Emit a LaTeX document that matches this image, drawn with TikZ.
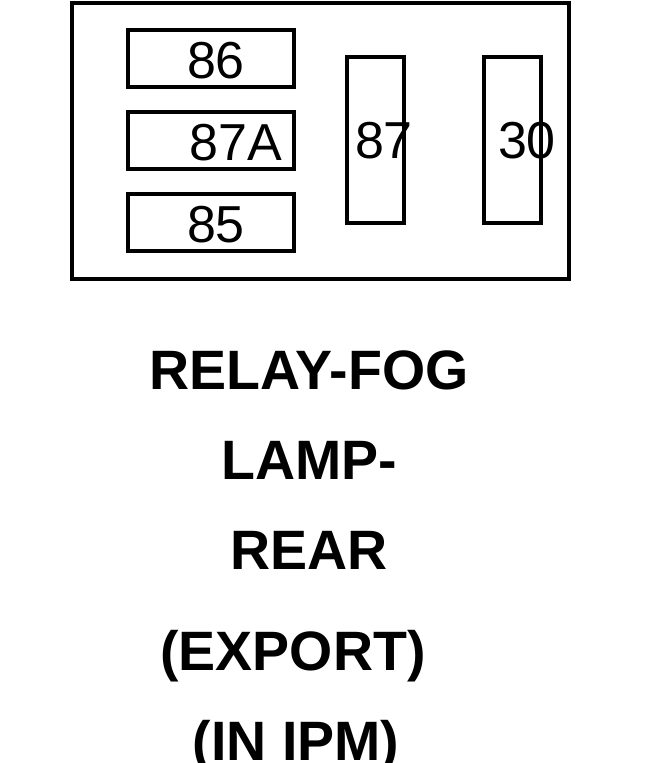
\documentclass[tikz,border=0pt]{standalone}
\usepackage{fontspec}
\setmainfont{Liberation Sans}
\begin{document}
\begin{tikzpicture}[x=1pt,y=-1pt,
  pin/.style={draw, line width=4pt, inner sep=0pt},
  pinlabel/.style={font=\fontsize{52}{52}\selectfont},
  title/.style={font=\fontsize{55.5}{55.5}\selectfont\bfseries}]
  \useasboundingbox (0,0) rectangle (648,763);
  \node[pin, minimum width=497pt, minimum height=276pt] (relay) at (320.5,141) {};
  % pins
  \node[pin, minimum width=166pt, minimum height=57pt] (p86) at (211,58.5) {};
  \node[pin, minimum width=166pt, minimum height=57pt] (p87A) at (211,140.5) {};
  \node[pin, minimum width=166pt, minimum height=57pt] (p85) at (211,222.5) {};
  \node[pin, minimum width=57pt, minimum height=166pt] (p87) at (375.5,140) {};
  \node[pin, minimum width=57pt, minimum height=166pt] (p30) at (512.5,140) {};
  \node[pinlabel] (t86) at (216,61) {86};
  \node[pinlabel] (t87A) at (236,143) {87A};
  \node[pinlabel] (t85) at (216,225) {85};
  \node[pinlabel] (t87) at (384,141) {87};
  \node[pinlabel] (t30) at (527,141) {30};
  % caption
  \node[title] (l1) at (309,370) {RELAY-FOG};
  \node[title] (l2) at (309,460) {LAMP-};
  \node[title] (l3) at (309,550) {REAR};
  \node[title] (l4) at (293,656) {(EXPORT)};
  \node[title] (l5) at (296,746) {(IN IPM)};
\end{tikzpicture}
\end{document}
